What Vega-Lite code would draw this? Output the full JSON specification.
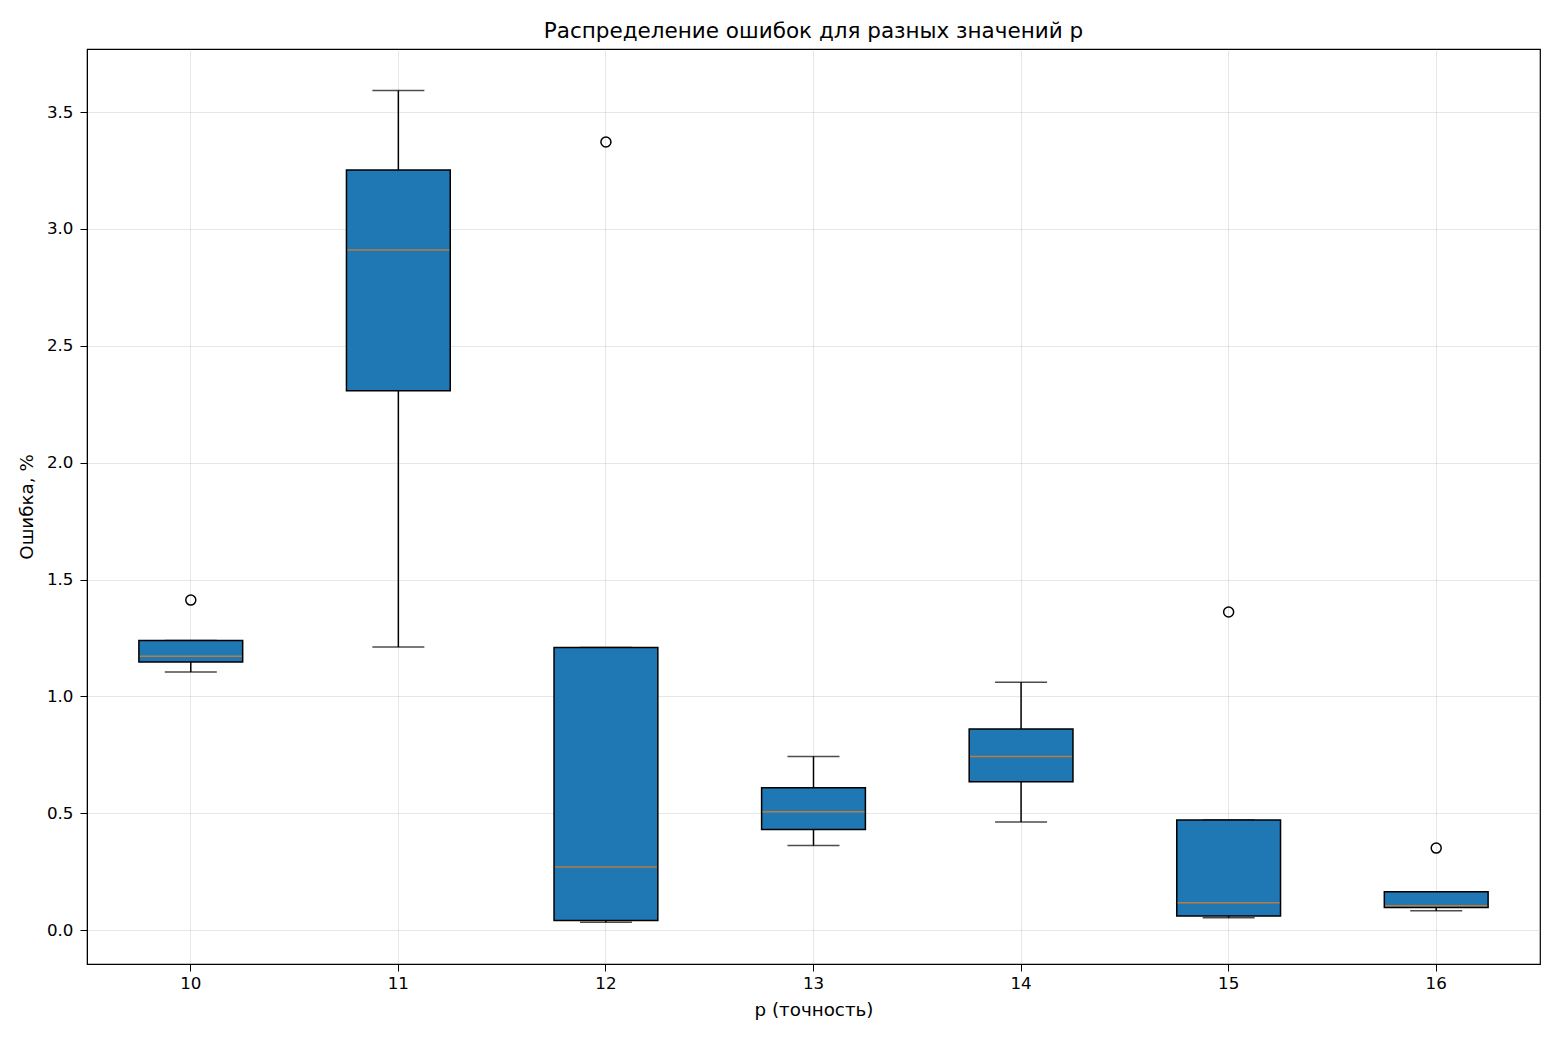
{
  "$schema": "https://vega.github.io/schema/vega-lite/v6.json",
  "autosize": {"type": "none"},
  "padding": {"left": 87, "top": 49, "right": 20, "bottom": 76},
  "width": 1453,
  "height": 915,
  "background": "white",
  "title": {
    "text": "Распределение ошибок для разных значений р",
    "font": "DejaVu Sans",
    "fontSize": 21.5,
    "fontWeight": "normal",
    "color": "black",
    "offset": 7
  },
  "config": {
    "view": {"stroke": "black", "strokeWidth": 1.2},
    "axis": {
      "labelFont": "DejaVu Sans",
      "labelFontSize": 16.7,
      "labelColor": "black",
      "titleFont": "DejaVu Sans",
      "titleFontSize": 18.3,
      "titleFontWeight": "normal",
      "titleColor": "black",
      "domainColor": "black",
      "tickColor": "black",
      "tickSize": 7,
      "gridColor": "#b0b0b0",
      "gridOpacity": 0.3,
      "gridWidth": 1
    }
  },
  "datasets": {
    "boxes": [
      {"p": 10, "lo": 1.104, "q1": 1.147, "med": 1.172, "q3": 1.239, "hi": 1.239},
      {"p": 11, "lo": 1.211, "q1": 2.308, "med": 2.910, "q3": 3.252, "hi": 3.592},
      {"p": 12, "lo": 0.034, "q1": 0.041, "med": 0.270, "q3": 1.209, "hi": 1.209},
      {"p": 13, "lo": 0.362, "q1": 0.430, "med": 0.506, "q3": 0.609, "hi": 0.743},
      {"p": 14, "lo": 0.463, "q1": 0.635, "med": 0.743, "q3": 0.860, "hi": 1.061},
      {"p": 15, "lo": 0.053, "q1": 0.060, "med": 0.117, "q3": 0.471, "hi": 0.471},
      {"p": 16, "lo": 0.083, "q1": 0.097, "med": 0.104, "q3": 0.164, "hi": 0.164}
    ],
    "outliers": [
      {"p": 10, "err": 1.412},
      {"p": 12, "err": 3.372},
      {"p": 15, "err": 1.361},
      {"p": 16, "err": 0.351}
    ]
  },
  "encoding": {
    "x": {
      "field": "p",
      "type": "ordinal",
      "scale": {"type": "band", "domain": [10, 11, 12, 13, 14, 15, 16], "paddingInner": 0.5, "paddingOuter": 0.25},
      "axis": {"title": "р (точность)", "labelAngle": 0, "grid": true, "bandPosition": 0.5, "labelPadding": 4, "titlePadding": 10}
    }
  },
  "layer": [
    {
      "data": {"name": "boxes"},
      "mark": {"type": "rule", "color": "black", "strokeWidth": 1.5},
      "encoding": {
        "y": {
          "field": "lo",
          "type": "quantitative",
          "scale": {"domain": [-0.145, 3.77], "nice": false, "zero": false},
          "axis": {"title": "Ошибка, %", "values": [0, 0.5, 1, 1.5, 2, 2.5, 3, 3.5], "format": ".1f", "grid": true, "labelPadding": 7, "titlePadding": 10}
        },
        "y2": {"field": "hi"}
      }
    },
    {
      "data": {"name": "boxes"},
      "mark": {"type": "tick", "color": "black", "size": 52, "thickness": 1.5},
      "encoding": {"y": {"field": "lo", "type": "quantitative"}}
    },
    {
      "data": {"name": "boxes"},
      "mark": {"type": "tick", "color": "black", "size": 52, "thickness": 1.5},
      "encoding": {"y": {"field": "hi", "type": "quantitative"}}
    },
    {
      "data": {"name": "boxes"},
      "mark": {"type": "bar", "fill": "#1f77b4", "stroke": "black", "strokeWidth": 1.5, "width": {"band": 1}},
      "encoding": {
        "y": {"field": "q1", "type": "quantitative"},
        "y2": {"field": "q3"}
      }
    },
    {
      "data": {"name": "boxes"},
      "mark": {"type": "tick", "color": "#ff7f0e", "size": 102, "thickness": 1.5},
      "encoding": {"y": {"field": "med", "type": "quantitative"}}
    },
    {
      "data": {"name": "outliers"},
      "mark": {"type": "point", "shape": "circle", "filled": false, "stroke": "black", "strokeWidth": 1.5, "size": 100, "opacity": 1},
      "encoding": {"y": {"field": "err", "type": "quantitative"}}
    }
  ]
}
